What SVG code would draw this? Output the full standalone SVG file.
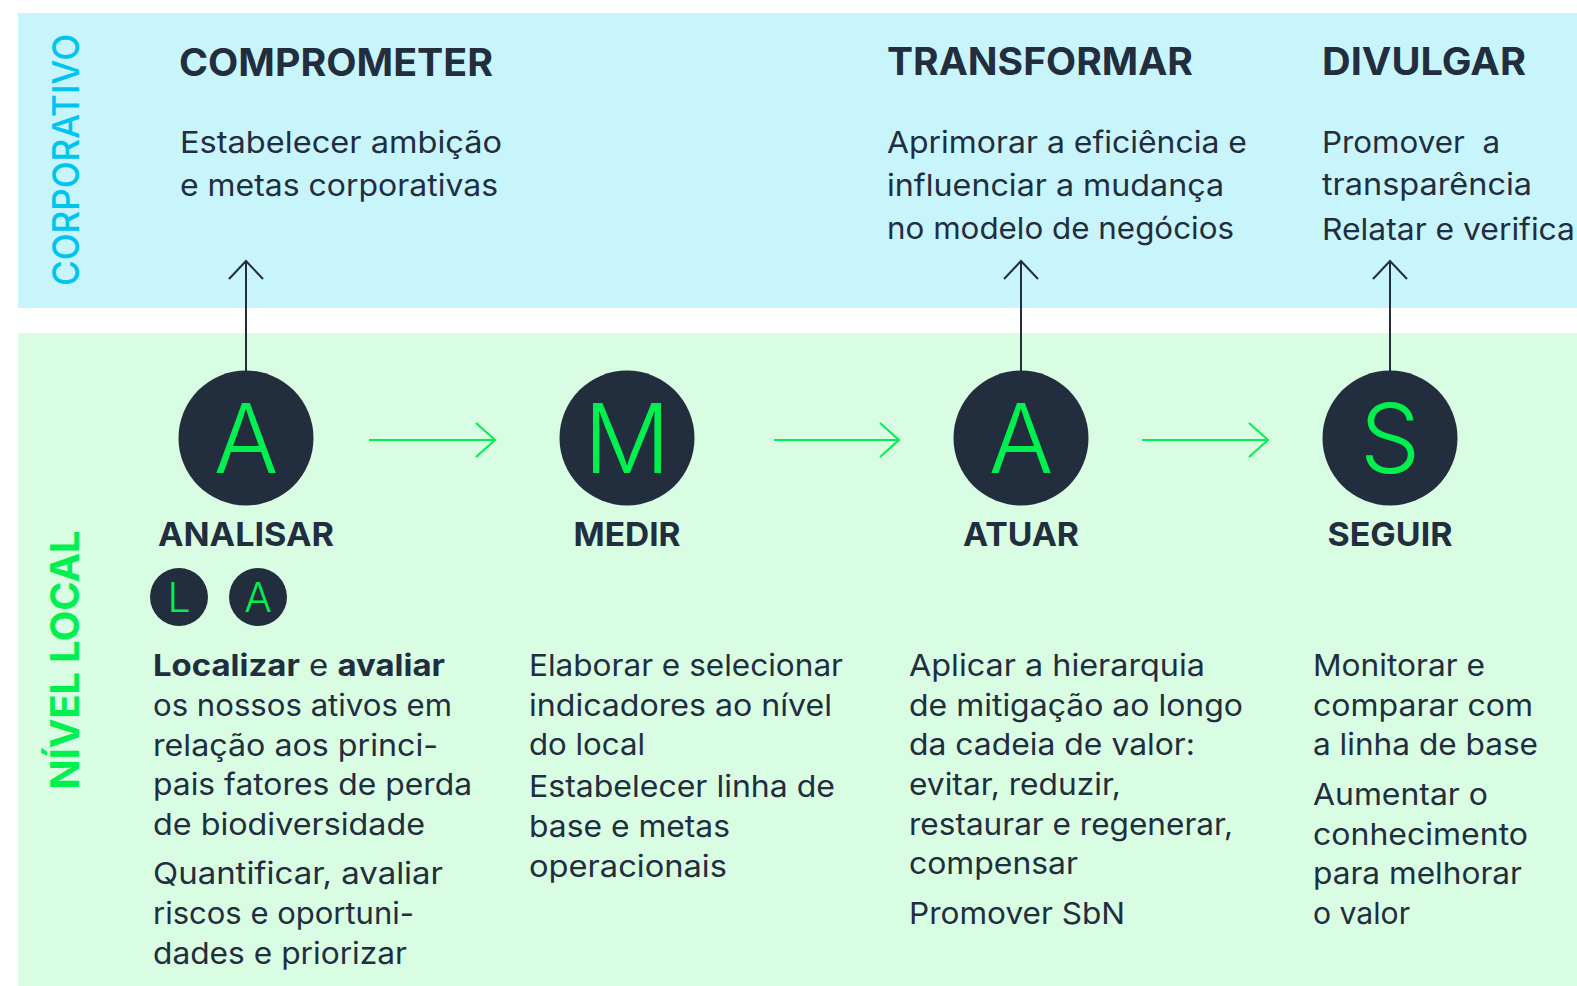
<svg xmlns="http://www.w3.org/2000/svg" width="1577" height="986" viewBox="0 0 1577 986">
<style>
.bandTop{fill:#c8f5fc}
.bandLow{fill:#d8fde2}
.h{font-family:Inter,"Liberation Sans",sans-serif;font-weight:700;font-size:38px;fill:#222d3e}
.h2{font-family:Inter,"Liberation Sans",sans-serif;font-weight:700;font-size:33px;fill:#222d3e;text-anchor:middle}
.b{font-family:Inter,"Liberation Sans",sans-serif;font-weight:400;font-size:30px;fill:#222d3e}
.bb{font-weight:700}
.disc{fill:#222d3e}
.big{font-family:Inter,"Liberation Sans",sans-serif;font-weight:300;font-size:96px;fill:#00f050;text-anchor:middle}
.small{font-family:Inter,"Liberation Sans",sans-serif;font-weight:300;font-size:41px;fill:#00f050;text-anchor:middle}
.vc{font-family:Inter,"Liberation Sans",sans-serif;font-weight:500;font-size:37px;fill:#00c4f0;text-anchor:middle}
.vl{font-family:Inter,"Liberation Sans",sans-serif;font-weight:700;font-size:39px;fill:#00f050;text-anchor:middle}
.gl{stroke:#00f050;stroke-width:2;fill:none}
.dl{stroke:#222d3e;stroke-width:2;fill:none}
</style>
<defs>
<marker id="mg" markerUnits="userSpaceOnUse" markerWidth="44" markerHeight="44" viewBox="-22 -22 44 44" refX="0" refY="0" orient="auto" overflow="visible">
<path d="M-19,-17 L0,0 L-19,17" fill="none" stroke="#00f050" stroke-width="2"/>
</marker>
<marker id="md" markerUnits="userSpaceOnUse" markerWidth="44" markerHeight="44" viewBox="-22 -22 44 44" refX="0" refY="0" orient="auto" overflow="visible">
<path d="M-18,-17 L0,0 L-18,17" fill="none" stroke="#222d3e" stroke-width="2"/>
</marker>
</defs>
<rect width="1577" height="986" fill="#ffffff"/>
<rect class="bandTop" x="18" y="13" width="1559" height="295"/>
<rect class="bandLow" x="18" y="333" width="1559" height="653"/>
<g id="label-corporativo"><text class="vc" transform="translate(79,160) rotate(-90)" textLength="252" lengthAdjust="spacingAndGlyphs">CORPORATIVO</text></g>
<g id="label-nivel-local"><text class="vl" transform="translate(79,660) rotate(-90)" textLength="259" lengthAdjust="spacingAndGlyphs">NÍVEL LOCAL</text></g>

<g id="connectors">
<path class="dl" d="M246,371 L246,261" marker-end="url(#md)"/>
<path class="dl" d="M1021,371 L1021,261" marker-end="url(#md)"/>
<path class="dl" d="M1390,371 L1390,261" marker-end="url(#md)"/>
<path class="gl" d="M369,440 L495,440" marker-end="url(#mg)"/>
<path class="gl" d="M774,440 L899,440" marker-end="url(#mg)"/>
<path class="gl" d="M1142,440 L1268,440" marker-end="url(#mg)"/>
</g>

<g id="comprometer">
<text class="h" x="179" y="76" textLength="314" lengthAdjust="spacingAndGlyphs">COMPROMETER</text>
<text class="b" x="180" y="153" textLength="322" lengthAdjust="spacingAndGlyphs">Estabelecer ambição</text>
<text class="b" x="180" y="196" textLength="318" lengthAdjust="spacingAndGlyphs">e metas corporativas</text>
</g>
<g id="transformar">
<text class="h" x="887" y="75" textLength="306" lengthAdjust="spacingAndGlyphs">TRANSFORMAR</text>
<text class="b" x="887" y="153" textLength="360" lengthAdjust="spacingAndGlyphs">Aprimorar a eficiência e</text>
<text class="b" x="887" y="196" textLength="337" lengthAdjust="spacingAndGlyphs">influenciar a mudança</text>
<text class="b" x="887" y="239" textLength="347" lengthAdjust="spacingAndGlyphs">no modelo de negócios</text>
</g>
<g id="divulgar">
<text class="h" x="1322" y="75" textLength="204" lengthAdjust="spacingAndGlyphs">DIVULGAR</text>
<text class="b" x="1322" y="153" textLength="178" lengthAdjust="spacingAndGlyphs" xml:space="preserve">Promover  a</text>
<text class="b" x="1322" y="195" textLength="210" lengthAdjust="spacingAndGlyphs">transparência</text>
<text class="b" x="1322" y="240" textLength="253" lengthAdjust="spacingAndGlyphs">Relatar e verifica</text>
</g>

<g id="analisar">
<circle class="disc" cx="246" cy="438" r="67.5"/>
<text class="big" x="246" y="473">A</text>
<text class="h2" x="246" y="546" textLength="176" lengthAdjust="spacingAndGlyphs">ANALISAR</text>
</g>
<g id="badge-l">
<circle class="disc" cx="179" cy="597" r="29"/>
<text class="small" x="179" y="612">L</text>
</g>
<g id="badge-a">
<circle class="disc" cx="258" cy="597" r="29"/>
<text class="small" x="258" y="612">A</text>
</g>
<g id="analisar-text">
<text class="b" x="153" y="676" textLength="292" lengthAdjust="spacingAndGlyphs"><tspan class="bb">Localizar</tspan> e <tspan class="bb">avaliar</tspan></text>
<text class="b" x="153" y="716" textLength="299" lengthAdjust="spacingAndGlyphs">os nossos ativos em</text>
<text class="b" x="153" y="756" textLength="285" lengthAdjust="spacingAndGlyphs">relação aos princi-</text>
<text class="b" x="153" y="795" textLength="319" lengthAdjust="spacingAndGlyphs">pais fatores de perda</text>
<text class="b" x="153" y="835" textLength="272" lengthAdjust="spacingAndGlyphs">de biodiversidade</text>
<text class="b" x="153" y="884" textLength="290" lengthAdjust="spacingAndGlyphs">Quantificar, avaliar</text>
<text class="b" x="153" y="924" textLength="261" lengthAdjust="spacingAndGlyphs">riscos e oportuni-</text>
<text class="b" x="153" y="964" textLength="254" lengthAdjust="spacingAndGlyphs">dades e priorizar</text>
</g>

<g id="medir">
<circle class="disc" cx="627" cy="438" r="67.5"/>
<text class="big" x="627" y="473">M</text>
<text class="h2" x="627" y="546" textLength="107" lengthAdjust="spacingAndGlyphs">MEDIR</text>
<text class="b" x="529" y="676" textLength="314" lengthAdjust="spacingAndGlyphs">Elaborar e selecionar</text>
<text class="b" x="529" y="716" textLength="303" lengthAdjust="spacingAndGlyphs">indicadores ao nível</text>
<text class="b" x="529" y="755" textLength="116" lengthAdjust="spacingAndGlyphs">do local</text>
<text class="b" x="529" y="797" textLength="306" lengthAdjust="spacingAndGlyphs">Estabelecer linha de</text>
<text class="b" x="529" y="837" textLength="201" lengthAdjust="spacingAndGlyphs">base e metas</text>
<text class="b" x="529" y="877" textLength="198" lengthAdjust="spacingAndGlyphs">operacionais</text>
</g>

<g id="atuar">
<circle class="disc" cx="1021" cy="438" r="67.5"/>
<text class="big" x="1021" y="473">A</text>
<text class="h2" x="1021" y="546" textLength="116" lengthAdjust="spacingAndGlyphs">ATUAR</text>
<text class="b" x="909" y="676" textLength="296" lengthAdjust="spacingAndGlyphs">Aplicar a hierarquia</text>
<text class="b" x="909" y="716" textLength="334" lengthAdjust="spacingAndGlyphs">de mitigação ao longo</text>
<text class="b" x="909" y="755" textLength="286" lengthAdjust="spacingAndGlyphs">da cadeia de valor:</text>
<text class="b" x="909" y="795" textLength="212" lengthAdjust="spacingAndGlyphs">evitar, reduzir,</text>
<text class="b" x="909" y="835" textLength="324" lengthAdjust="spacingAndGlyphs">restaurar e regenerar,</text>
<text class="b" x="909" y="874" textLength="169" lengthAdjust="spacingAndGlyphs">compensar</text>
<text class="b" x="909" y="924" textLength="216" lengthAdjust="spacingAndGlyphs">Promover SbN</text>
</g>

<g id="seguir">
<circle class="disc" cx="1390" cy="438" r="67.5"/>
<text class="big" x="1390" y="473">S</text>
<text class="h2" x="1390" y="546" textLength="125" lengthAdjust="spacingAndGlyphs">SEGUIR</text>
<text class="b" x="1313" y="676" textLength="172" lengthAdjust="spacingAndGlyphs">Monitorar e</text>
<text class="b" x="1313" y="716" textLength="220" lengthAdjust="spacingAndGlyphs">comparar com</text>
<text class="b" x="1313" y="755" textLength="225" lengthAdjust="spacingAndGlyphs">a linha de base</text>
<text class="b" x="1313" y="805" textLength="175" lengthAdjust="spacingAndGlyphs">Aumentar o</text>
<text class="b" x="1313" y="845" textLength="215" lengthAdjust="spacingAndGlyphs">conhecimento</text>
<text class="b" x="1313" y="884" textLength="209" lengthAdjust="spacingAndGlyphs">para melhorar</text>
<text class="b" x="1313" y="924" textLength="97" lengthAdjust="spacingAndGlyphs">o valor</text>
</g>
</svg>
